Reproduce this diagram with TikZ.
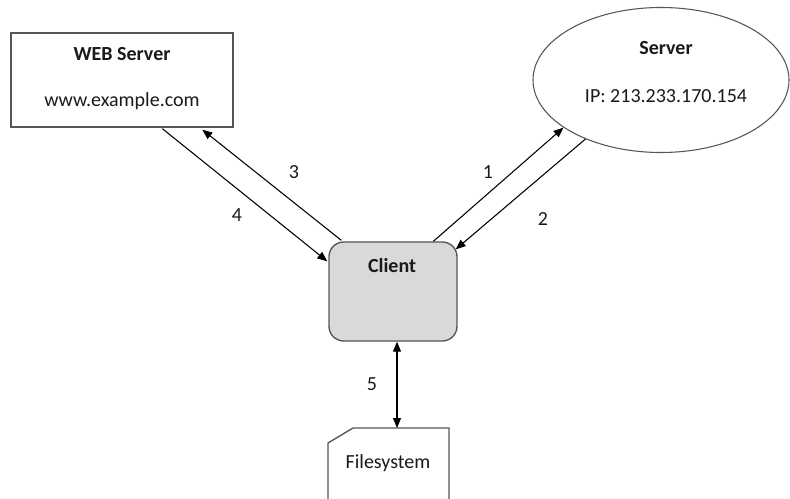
\documentclass[tikz,border=0pt]{standalone}
\usepackage{fontspec}
\setmainfont{Carlito}
\usetikzlibrary{shapes.geometric,arrows.meta,calc}
\definecolor{edge}{HTML}{555555}
\definecolor{clientfill}{HTML}{D9D9D9}
\definecolor{txt}{HTML}{1A1A1A}
\tikzset{
  boxline/.style={draw=edge, line width=1pt},
  conn/.style={draw=black, line width=0.8pt, -{Triangle[length=7.5pt,width=6pt]}},
  bothconn/.style={draw=black, line width=0.8pt, {Triangle[length=7.5pt,width=6pt]}-{Triangle[length=7.5pt,width=6pt]}},
  lbl/.style={font=\fontsize{15}{18}\selectfont, text=txt, inner sep=0pt},
  ttl/.style={font=\fontsize{15}{18}\selectfont\bfseries, text=txt, inner sep=0pt},
}
\begin{document}
\begin{tikzpicture}[x=0.75pt,y=-0.75pt]
\useasboundingbox (0,0) rectangle (790,499);
\clip (0,0) rectangle (790,499);
\fill[white] (0,0) rectangle (790,499);
% WEB server
\node[boxline, rectangle, minimum width=222*0.75pt, minimum height=94*0.75pt, inner sep=0pt] (web) at (122,80) {};
\node[ttl] (webt) at (122,54) {WEB Server};
\node[lbl] (webu) at (122,101) {www.example.com};
% Server ellipse
\node[draw=edge, line width=0.8pt, ellipse, minimum width=256*0.75pt, minimum height=145*0.75pt, inner sep=0pt] (srv) at (661,80) {};
\node[ttl] (srvt) at (666,48) {Server};
\node[lbl] (srvip) at (666,96) {IP: 213.233.170.154};
% Client
\node[boxline, fill=clientfill, rectangle, rounded corners=11pt, minimum width=128*0.75pt, minimum height=99*0.75pt, inner sep=0pt] (client) at (393,291.5) {};
\node[ttl] (clientt) at (392,266) {Client};
% Filesystem
\draw[boxline] (328,520) -- (328,443) -- (353,428) -- (449,428) -- (449,520);
\coordinate (fstop) at (397,428);
\node[lbl] (fs) at (388,463) {Filesystem};
% connectors
\draw[conn] ($(client.north west)+(105,0)$) -- (srv.206.6);
\draw[conn] (srv.218.6) -- ($(client.north east)+(-2,8)$);
\draw[conn] ($(client.north west)+(13,-1)$) -- ($(web.south west)+(192,2)$);
\draw[conn] ($(web.south west)+(152,1)$) -- ($(client.north west)+(-1,20)$);
\draw[bothconn] ($(client.south)+(4,0)$) -- (fstop);
% labels
\node[lbl] (l1) at (488,172) {1};
\node[lbl] (l2) at (543,219) {2};
\node[lbl] (l3) at (294,172) {3};
\node[lbl] (l4) at (237,215) {4};
\node[lbl] (l5) at (372,384) {5};
\end{tikzpicture}
\end{document}
